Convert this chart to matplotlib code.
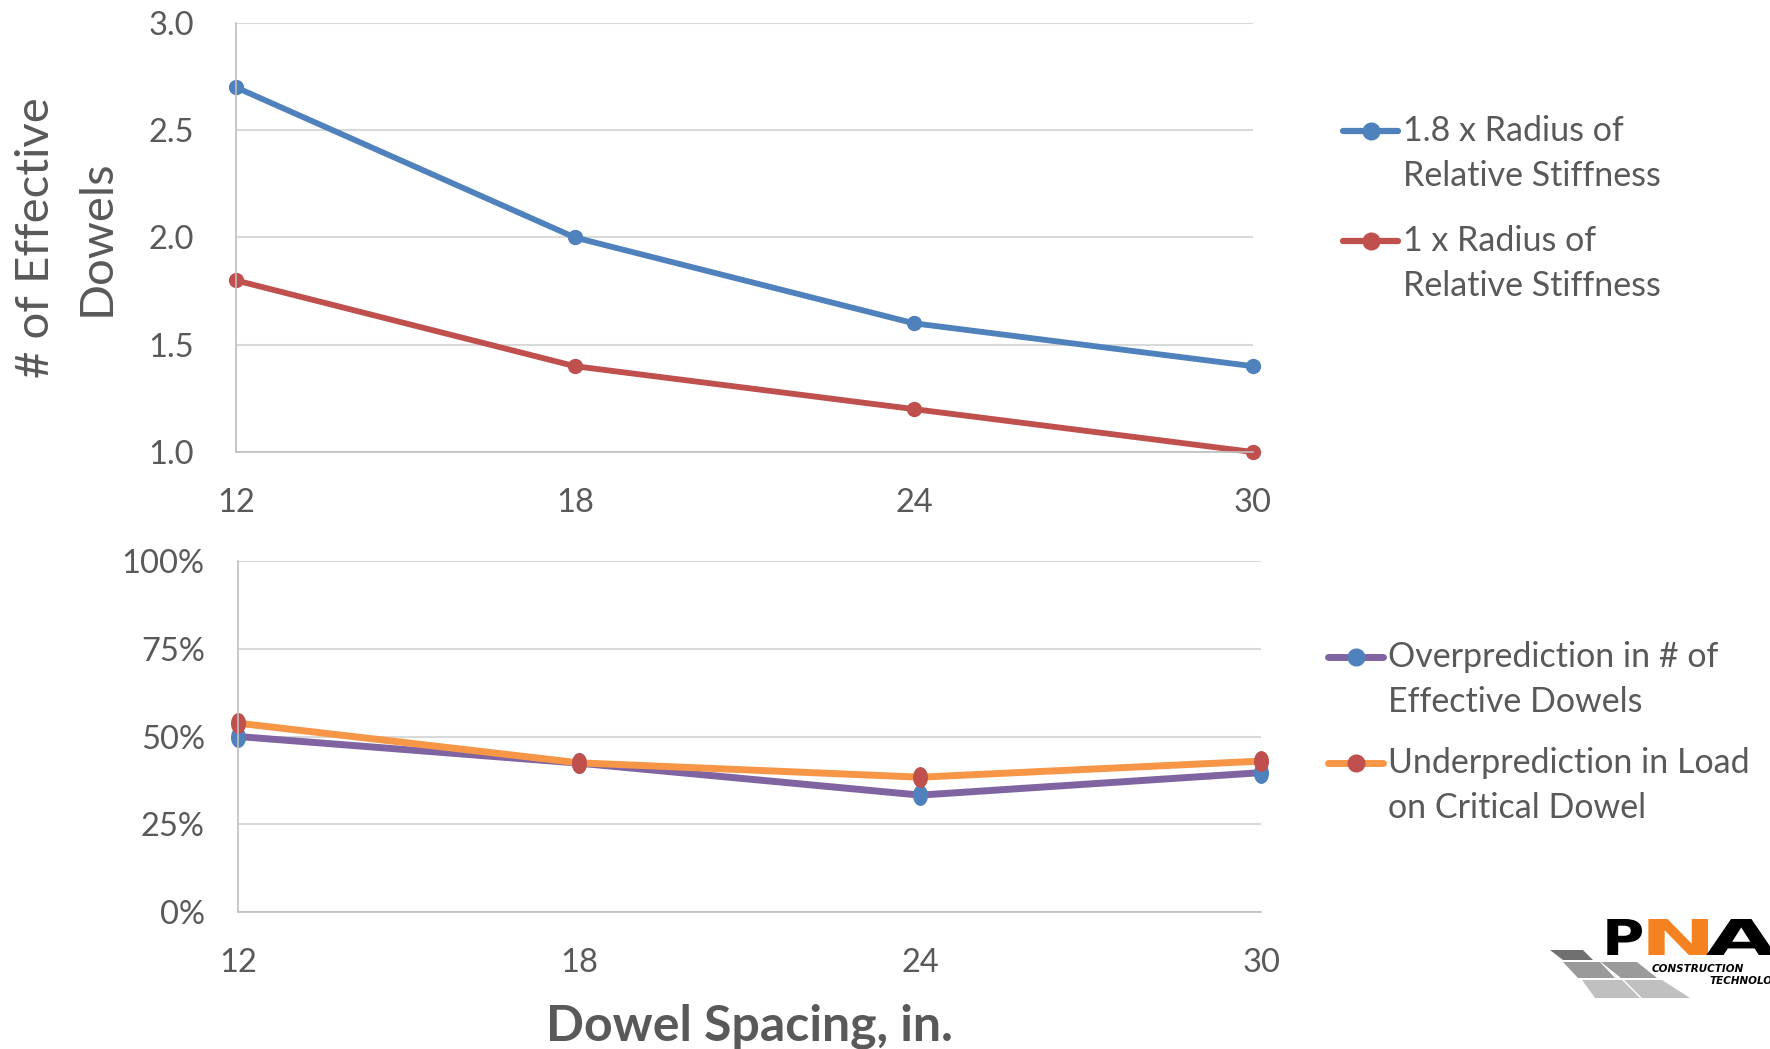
import matplotlib
matplotlib.use("Agg")
import matplotlib.pyplot as plt
from matplotlib.path import Path
from matplotlib.markers import MarkerStyle
from matplotlib.patches import Polygon, PathPatch
from matplotlib.lines import Line2D
from matplotlib.textpath import TextPath
from matplotlib.font_manager import FontProperties
from matplotlib.transforms import Affine2D
import numpy as np

# dowel spacing (in.)
spacing = [12, 18, 24, 30]

# number of effective dowels
eff_18r = [2.7, 2.0, 1.6, 1.4]
eff_1r = [1.8, 1.4, 1.2, 1.0]

# prediction error (%)
over_pred = [50.0, 42.4, 33.3, 39.7]
under_pred = [53.8, 42.5, 38.4, 43.0]

top_ticks = [1.0, 1.5, 2.0, 2.5, 3.0]
bot_ticks = [0, 25, 50, 75, 100]

top_labels = [["1.8 x Radius of", "Relative Stiffness"],
              ["1 x Radius of", "Relative Stiffness"]]
bot_labels = [["Overprediction in # of", "Effective Dowels"],
              ["Underprediction in Load", "on Critical Dowel"]]

TXT = "#595959"
GRID = "#d9d9d9"
AXIS = "#bfbfbf"
BLUE = "#4f81bd"
RED = "#c0504d"
PURPLE = "#8064a2"
ORANGE = "#f79646"

plt.rcParams["font.family"] = ["Lato", "DejaVu Sans"]

W, H = 1770, 1049
fig = plt.figure(figsize=(W / 100, H / 100), dpi=100)

# slightly tall dot used on the lower chart
t = np.linspace(0, 2 * np.pi, 40)
oval = MarkerStyle(Path(np.column_stack([0.7 * np.cos(t), np.sin(t)]), closed=True))


def px(x, y):
    # figure pixel position (from top-left) -> figure fraction
    return x / W, 1 - y / H


def style_axes(ax, ticks, ypad):
    for s in ["top", "right"]:
        ax.spines[s].set_visible(False)
    for s in ["left", "bottom"]:
        ax.spines[s].set_color(AXIS)
        ax.spines[s].set_linewidth(1.2)
    ax.set_xlim(spacing[0], spacing[-1])
    ax.set_xticks(spacing)
    ax.set_yticks(ticks)
    ax.set_ylim(ticks[0], ticks[-1])
    ax.grid(axis="y", color=GRID, linewidth=1.5)
    ax.set_axisbelow(True)
    ax.tick_params(length=0, labelsize=23.5, colors=TXT)
    ax.tick_params(axis="y", pad=ypad)
    ax.tick_params(axis="x", pad=26)


def legend_entry(x0, y, lines, lc, mc, lw, marker):
    # handle sits level with the first text line
    x1 = x0 + 55
    xs, ys = px(x0, y), px(x1, y)
    fig.add_artist(Line2D([xs[0], ys[0]], [xs[1], ys[1]], color=lc, lw=lw,
                          solid_capstyle="round", transform=fig.transFigure))
    mid = px((x0 + x1) / 2, y)
    fig.add_artist(Line2D([mid[0]], [mid[1]], marker=marker, ms=12, mfc=mc,
                          mec=mc, lw=0, transform=fig.transFigure))
    for i, s in enumerate(lines):
        fig.text(*px(x1 + 5, y + 45 * i), s, fontsize=24.5, color=TXT,
                 va="center", ha="left")


# upper chart
ax1 = fig.add_axes([0.1333, 0.5691, 0.5746, 0.409])
ax1.plot(spacing, eff_18r, color=BLUE, lw=4.2, marker="o", ms=10, clip_on=False)
ax1.plot(spacing, eff_1r, color=RED, lw=4.2, marker="o", ms=10, clip_on=False)
style_axes(ax1, top_ticks, 30)
ax1.set_yticklabels([f"{v:.1f}" for v in top_ticks])
ax1.set_ylabel("# of Effective\nDowels", fontsize=34, color=TXT, labelpad=22,
               linespacing=1.55)
legend_entry(1343, 131, top_labels[0], BLUE, BLUE, 4.5, "o")
legend_entry(1343, 241, top_labels[1], RED, RED, 4.5, "o")

# lower chart
ax2 = fig.add_axes([0.1345, 0.1306, 0.578, 0.3346])
ax2.plot(spacing, over_pred, color=PURPLE, lw=5, marker=oval, ms=14,
         mfc=BLUE, mec=BLUE, clip_on=False)
ax2.plot(spacing, under_pred, color=ORANGE, lw=5, marker=oval, ms=14,
         mfc=RED, mec=RED, clip_on=False)
style_axes(ax2, bot_ticks, 24)
ax2.set_yticklabels([f"{v}%" for v in bot_ticks])
ax2.set_xlabel("Dowel Spacing, in.", fontsize=36, fontweight="bold",
               color=TXT, labelpad=18)
legend_entry(1328, 657, bot_labels[0], PURPLE, BLUE, 5, "o")
legend_entry(1328, 763, bot_labels[1], ORANGE, RED, 5, "o")

# company logo, bottom right (pixel coordinates of the figure)
logo = fig.add_axes([1545 / W, 1 - 1005 / H, 225 / W, 95 / H])
logo.set_xlim(1545, 1770)
logo.set_ylim(1005, 910)
logo.axis("off")
tiles = [
    ([(1550, 950), (1583, 950), (1593, 960), (1563, 960)], "#707070"),
    ([(1563, 962), (1600, 962), (1615, 978), (1578, 978)], "#9a9a9a"),
    ([(1601, 962), (1637, 962), (1657, 978), (1621, 978)], "#9a9a9a"),
    ([(1582, 980), (1622, 980), (1640, 998), (1595, 998)], "#c0c0c0"),
    ([(1624, 980), (1662, 980), (1690, 998), (1642, 998)], "#c0c0c0"),
]
for pts, c in tiles:
    logo.add_patch(Polygon(pts, closed=True, color=c, lw=0))

heavy = FontProperties(family="DejaVu Sans", weight="bold")
letters = [("P", "black", 1602, 1642), ("N", "#f58220", 1640, 1708),
           ("A", "black", 1706, 1776)]
for ch, col, x0, x1 in letters:
    tp = TextPath((0, 0), ch, size=10, prop=heavy)
    v = tp.vertices
    w = v[:, 0].max() - v[:, 0].min()
    h = v[:, 1].max() - v[:, 1].min()
    tr = (Affine2D().translate(-v[:, 0].min(), -v[:, 1].min())
          .scale((x1 - x0) / w, -36 / h).translate(x0, 955))
    logo.add_patch(PathPatch(tr.transform_path(tp), color=col, lw=0,
                             clip_on=False))
logo.text(1652, 972, "CONSTRUCTION", fontsize=7.5, fontweight="bold",
          style="italic", color="black", family="DejaVu Sans", clip_on=False)
logo.text(1710, 984, "TECHNOLOGY", fontsize=7.5, fontweight="bold",
          style="italic", color="black", family="DejaVu Sans", clip_on=False)

fig.savefig("out.png", dpi=100, facecolor="white")
